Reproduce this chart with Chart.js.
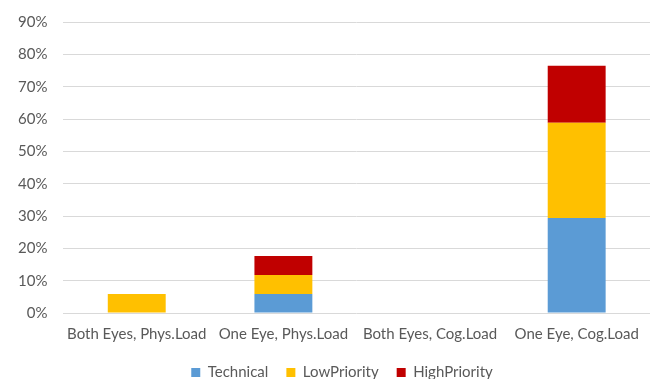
<!DOCTYPE html>
<html>
<head>
<meta charset="utf-8">
<script src="https://cdn.jsdelivr.net/npm/chart.js@4"></script>
<style>
  html, body { margin: 0; padding: 0; background: #fff; overflow: hidden; }
  #wrap { width: 657px; height: 393px; margin-top: -3px; position: relative; }
</style>
</head>
<body>
<div id="wrap"><canvas id="chart"></canvas></div>
<script>
// conditions along the x axis
const categories = ['Both Eyes, Phys.Load', 'One Eye, Phys.Load', 'Both Eyes, Cog.Load', 'One Eye, Cog.Load'];

// share of cases per type (%)
const technical = [0, 5.88, 0, 29.41];
const lowPriority = [5.88, 5.88, 0, 29.41];
const highPriority = [0, 5.88, 0, 17.65];

const yTicks = [0, 10, 20, 30, 40, 50, 60, 70, 80, 90];

const textColor = '#595959';
Chart.defaults.font.family = 'Lato, "Liberation Sans", sans-serif';
Chart.defaults.font.size = 15;
Chart.defaults.color = textColor;

// nudge the legend a little to the right of the canvas centre
const legendShift = {
    id: 'legendShift',
    afterLayout(chart) {
        const lg = chart.legend;
        if (!lg) return;
        lg.left += 16;
        lg.right += 16;
    }
};

const ctx = document.getElementById('chart').getContext('2d');
new Chart(ctx, {
    type: 'bar',
    data: {
        labels: categories,
        datasets: [
            { label: 'Technical', data: technical, backgroundColor: '#5B9BD5' },
            { label: 'LowPriority', data: lowPriority, backgroundColor: '#FFC000' },
            { label: 'HighPriority', data: highPriority, backgroundColor: '#C00000' }
        ]
    },
    plugins: [legendShift],
    options: {
        responsive: true,
        maintainAspectRatio: false,
        animation: false,
        layout: { padding: { left: 2, right: 7, top: 8, bottom: 0 } },
        datasets: {
            bar: { categoryPercentage: 1, barPercentage: 0.395 }
        },
        scales: {
            x: {
                stacked: true,
                grid: { display: false },
                border: { display: false },
                ticks: { padding: 4, maxRotation: 0, autoSkip: false }
            },
            y: {
                stacked: true,
                min: 0,
                max: 90,
                afterBuildTicks: axis => { axis.ticks = yTicks.map(v => ({ value: v })); },
                grid: { color: '#D9D9D9', drawTicks: false },
                border: { display: false },
                ticks: { padding: 16, callback: v => v + '%' }
            }
        },
        plugins: {
            legend: {
                position: 'bottom',
                labels: { boxWidth: 9, boxHeight: 9, padding: 18 }
            },
            tooltip: { enabled: false }
        }
    }
});
</script>
</body>
</html>
